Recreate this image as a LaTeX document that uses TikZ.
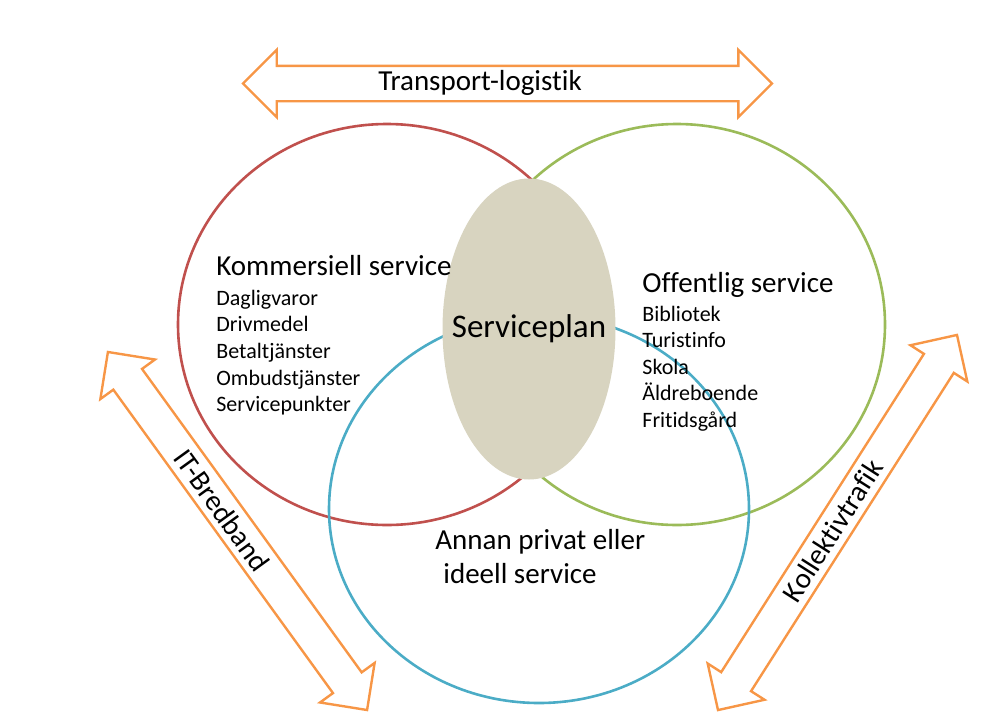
\documentclass[tikz,border=0pt]{standalone}
\usepackage{fontspec}
\setmainfont{Carlito}[Ligatures=NoCommon]
\usepackage{tikz}
\usetikzlibrary{positioning,shapes.geometric,shapes.arrows}

\definecolor{kommred}{HTML}{C0504D}
\definecolor{offgreen}{HTML}{9BBB59}
\definecolor{annanblue}{HTML}{4BACC6}
\definecolor{bandorange}{HTML}{F79646}
\definecolor{plantan}{RGB}{216,212,192}

\begin{document}
\begin{tikzpicture}[x=0.5pt, y=-0.5pt,
        ring/.style={ellipse, draw, line width=1.3pt, inner sep=0pt},
        band/.style={double arrow, draw=bandorange, line width=1.2pt, inner xsep=0pt,
            inner ysep=8.25pt, minimum width=0pt, double arrow head extend=8pt},
        bigtext/.style={font=\fontsize{14.5}{17}\selectfont, inner sep=0pt},
        head/.style={bigtext, anchor=base west},
        item/.style={font=\fontsize{11}{13}\selectfont, inner sep=0pt, anchor=base west}]
    \useasboundingbox (0,0) rectangle (986,718);

    % the three service areas
    \node[ring, draw=kommred, minimum width=209pt, minimum height=200.5pt] (komm) at (387,324.5) {};
    \node[ring, draw=offgreen, minimum width=208pt, minimum height=200.5pt] (offe) at (677,324.5) {};
    \node[ring, draw=annanblue, minimum width=210pt, minimum height=194pt] (annan) at (539,509) {};
    \node[ellipse, fill=plantan, inner sep=0pt, minimum width=86.5pt, minimum height=150.5pt] (plan) at (529,329) {};
    \node[font=\fontsize{16.5}{19}\selectfont, inner sep=0pt] (planlabel) at (plan) {Serviceplan};

    % texts
    \node[head] (kommtitle) at (216,275) {Kommersiell service};
    \foreach \t [count=\i] in {Dagligvaror,Drivmedel,Betaltjänster,Ombudstjänster,Servicepunkter}
        \node[item] (kommitem\i) at (216,{305+26.7*(\i-1)}) {\t};

    \node[head] (offetitle) at (642,292) {Offentlig service};
    \foreach \t [count=\i] in {Bibliotek,Turistinfo,Skola,Äldreboende,Fritidsgård}
        \node[item] (offeitem\i) at (642,{321+26.5*(\i-1)}) {\t};

    \node[head] (annanline1) at (435,549) {Annan privat eller};
    \node[head] (annanline2) at (443,583) {ideell service};

    % the arrows round it
    \node[band, minimum height=264.5pt] (transport) at (507.5,83.5) {};
    \node[bigtext] (transportlabel) at (480,83) {Transport-logistik};

    \node[band, minimum height=221pt, rotate=-54.1] (it) at (237.5,531) {};
    \node[bigtext, rotate=-54.1] (itlabel) at (222,510) {IT-Bredband};

    \node[band, minimum height=222.4pt, rotate=57.5] (kollektiv) at (837.5,522.5) {};
    \node[bigtext, rotate=57.5] (kollektivlabel) at (832.5,530.5) {Kollektivtrafik};
\end{tikzpicture}
\end{document}
